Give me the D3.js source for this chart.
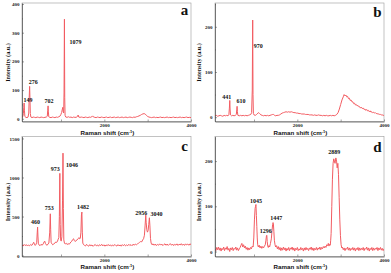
<!DOCTYPE html>
<html>
<head>
<meta charset="utf-8">
<script src="https://cdn.jsdelivr.net/npm/d3@7"></script>
<style>
  body { margin: 0; background: #fff; }
  svg { display: block; }
</style>
</head>
<body>
<div id="chart"></div>
<script>
// spectra: [Raman shift, intensity]
const specA = [[100,5],[118,7],[132,18],[142,40],[149,55],[156,30],[166,8],[190,5],[215,4],[240,6],[256,20],[266,75],[276,113],[284,70],[292,18],[305,6],[330,4],[360,6],[390,5],[420,4],[450,6],[480,5],[510,4],[540,6],[570,5],[600,4],[630,5],[660,6],[684,9],[694,30],[702,45],[709,24],[718,7],[740,5],[770,4],[800,6],[830,5],[860,4],[890,6],[920,5],[950,7],[975,9],[995,14],[1015,22],[1032,34],[1042,40],[1052,24],[1062,20],[1070,90],[1079,347],[1086,75],[1094,12],[1110,6],[1140,5],[1170,7],[1200,5],[1230,6],[1260,4],[1290,6],[1320,5],[1350,5],[1380,8],[1395,13],[1410,6],[1440,5],[1470,6],[1500,5],[1530,4],[1560,6],[1590,5],[1620,4],[1650,6],[1680,5],[1710,7],[1730,10],[1750,6],[1780,5],[1810,4],[1840,6],[1870,5],[1900,4],[1930,6],[1960,5],[1990,4],[2020,5],[2050,6],[2080,4],[2110,5],[2140,6],[2170,4],[2200,5],[2230,6],[2260,4],[2290,5],[2320,6],[2350,4],[2380,5],[2410,6],[2440,4],[2470,5],[2500,6],[2530,4],[2560,5],[2590,6],[2620,5],[2650,4],[2680,6],[2710,5],[2740,7],[2770,8],[2800,10],[2830,12],[2860,15],[2890,17],[2920,18],[2945,16],[2970,12],[3000,8],[3030,6],[3060,5],[3090,4],[3120,5],[3150,6],[3180,4],[3210,5],[3240,4],[3270,5],[3300,6],[3330,4],[3360,5],[3390,4],[3420,5],[3450,6],[3480,4],[3510,5],[3540,4],[3570,5],[3600,6],[3630,4],[3660,5],[3690,4],[3720,5],[3750,6],[3780,4],[3810,5],[3840,4],[3870,5],[3900,6],[3930,4],[3960,5],[4000,4]];

const specB = [[100,3],[130,4],[160,2],[190,3],[220,4],[250,3],[280,2],[310,4],[340,3],[370,4],[400,3],[420,5],[432,20],[441,37],[448,18],[458,5],[480,3],[510,4],[540,3],[570,4],[592,6],[602,16],[610,24],[617,12],[628,4],[660,3],[690,4],[720,3],[750,4],[780,3],[810,4],[840,3],[870,4],[900,5],[925,6],[945,10],[960,60],[970,215],[977,50],[986,8],[1000,5],[1030,4],[1060,6],[1090,9],[1110,10],[1130,8],[1160,5],[1190,4],[1220,3],[1250,4],[1280,3],[1310,4],[1340,3],[1370,4],[1400,5],[1430,6],[1450,6],[1475,4],[1500,3],[1530,4],[1560,4],[1590,5],[1620,7],[1650,9],[1680,10],[1710,11],[1740,12],[1770,11],[1800,12],[1830,11],[1860,12],[1890,11],[1920,10],[1950,10],[1980,9],[2010,9],[2040,8],[2070,8],[2100,7],[2130,7],[2160,7],[2190,6],[2220,6],[2250,6],[2280,5],[2310,5],[2340,5],[2370,4],[2400,5],[2430,4],[2460,4],[2490,5],[2520,4],[2550,4],[2580,3],[2610,4],[2640,3],[2670,4],[2700,3],[2730,3],[2760,4],[2790,3],[2820,4],[2850,3],[2880,4],[2910,6],[2940,10],[2970,18],[3000,28],[3030,38],[3060,45],[3080,50],[3100,47],[3120,49],[3140,45],[3160,46],[3180,41],[3200,42],[3220,37],[3240,38],[3260,34],[3280,34],[3300,30],[3320,31],[3340,27],[3360,28],[3380,25],[3400,26],[3420,23],[3440,23],[3460,20],[3480,22],[3500,19],[3520,20],[3540,17],[3560,18],[3580,15],[3600,17],[3620,14],[3640,15],[3660,12],[3680,14],[3700,11],[3720,12],[3740,10],[3760,11],[3780,9],[3800,10],[3820,8],[3840,8],[3860,7],[3880,7],[3900,6],[3920,6],[3940,5],[3960,5],[3980,4],[4000,4]];

const specC = [[100,135],[125,122],[150,142],[175,128],[200,140],[225,122],[250,136],[275,125],[300,142],[325,130],[350,150],[370,170],[385,150],[405,130],[425,145],[440,170],[452,300],[460,365],[468,250],[478,150],[495,136],[515,126],[540,144],[565,132],[590,150],[610,175],[625,185],[640,155],[660,138],[680,132],[700,148],[720,160],[740,300],[753,535],[762,330],[772,170],[790,150],[810,138],[835,150],[860,160],[880,175],[900,168],[920,185],[935,210],[950,230],[962,500],[973,1053],[982,400],[992,200],[1005,185],[1020,240],[1035,700],[1046,1312],[1055,600],[1065,200],[1080,160],[1100,148],[1120,158],[1140,142],[1165,152],[1190,145],[1210,160],[1230,175],[1250,185],[1270,205],[1290,215],[1305,195],[1325,180],[1345,190],[1370,200],[1395,215],[1415,230],[1430,215],[1445,220],[1460,300],[1472,520],[1482,557],[1492,300],[1503,160],[1520,140],[1540,132],[1565,122],[1590,144],[1615,128],[1640,120],[1665,140],[1690,124],[1715,136],[1740,118],[1765,132],[1790,142],[1815,124],[1840,136],[1865,120],[1890,140],[1915,126],[1940,144],[1965,124],[1990,138],[2015,120],[2040,136],[2065,126],[2090,142],[2115,124],[2140,138],[2165,120],[2190,136],[2215,124],[2240,142],[2265,128],[2290,122],[2315,140],[2340,124],[2365,136],[2390,120],[2415,140],[2440,126],[2465,142],[2490,124],[2515,136],[2540,126],[2565,144],[2590,128],[2615,140],[2640,126],[2665,146],[2690,132],[2715,148],[2740,138],[2765,150],[2790,158],[2815,170],[2840,180],[2865,176],[2885,200],[2905,215],[2925,260],[2940,380],[2956,518],[2966,420],[2980,330],[2995,300],[3010,320],[3025,400],[3040,484],[3052,380],[3065,220],[3080,160],[3100,138],[3125,150],[3150,132],[3175,148],[3200,128],[3225,144],[3250,132],[3275,150],[3300,134],[3325,148],[3350,128],[3375,142],[3400,150],[3425,132],[3450,148],[3475,130],[3500,144],[3525,152],[3550,132],[3575,148],[3600,128],[3625,144],[3650,134],[3675,150],[3700,130],[3725,146],[3750,136],[3775,152],[3800,132],[3825,148],[3850,130],[3875,150],[3900,136],[3925,148],[3950,132],[3975,150],[4000,140]];

const specD = [[100,6],[120,2],[140,9],[160,4],[180,10],[200,3],[220,8],[240,1],[260,7],[280,4],[300,10],[320,2],[340,8],[360,5],[380,11],[400,3],[420,7],[440,0],[460,8],[480,4],[500,9],[520,2],[540,7],[560,5],[580,10],[600,3],[620,8],[640,2],[660,6],[680,9],[700,14],[720,18],[740,10],[760,15],[780,8],[800,12],[820,5],[840,9],[860,3],[880,8],[900,4],[920,9],[940,6],[960,12],[980,10],[995,30],[1010,70],[1025,95],[1035,100],[1045,104],[1055,80],[1065,55],[1075,30],[1085,15],[1100,10],[1120,14],[1140,8],[1160,12],[1180,7],[1200,11],[1220,8],[1240,12],[1260,15],[1275,25],[1288,35],[1296,36],[1305,22],[1318,12],[1330,9],[1345,13],[1360,10],[1380,18],[1400,28],[1415,45],[1430,60],[1440,64],[1447,62],[1458,45],[1470,25],[1485,15],[1500,10],[1520,13],[1540,6],[1560,11],[1580,4],[1600,9],[1620,2],[1640,8],[1660,3],[1680,10],[1700,4],[1720,8],[1740,1],[1760,7],[1780,3],[1800,9],[1820,2],[1840,8],[1860,5],[1880,10],[1900,3],[1920,8],[1940,1],[1960,7],[1980,4],[2000,9],[2020,2],[2040,6],[2060,3],[2080,9],[2100,4],[2120,7],[2140,1],[2160,8],[2180,3],[2200,9],[2220,4],[2240,7],[2260,2],[2280,8],[2300,5],[2320,10],[2340,3],[2360,8],[2380,2],[2400,7],[2420,4],[2440,9],[2460,3],[2480,8],[2500,5],[2520,10],[2540,4],[2560,9],[2580,6],[2600,11],[2620,8],[2640,12],[2660,9],[2680,15],[2700,13],[2715,18],[2730,12],[2745,16],[2760,14],[2770,25],[2780,40],[2795,100],[2810,160],[2825,195],[2840,205],[2855,200],[2870,195],[2889,207],[2905,200],[2920,185],[2935,195],[2950,170],[2965,120],[2980,70],[2995,35],[3010,15],[3025,8],[3040,10],[3060,4],[3080,8],[3100,2],[3120,7],[3140,5],[3160,10],[3180,3],[3200,8],[3220,2],[3240,7],[3260,4],[3280,9],[3300,3],[3320,8],[3340,1],[3360,7],[3380,4],[3400,9],[3420,2],[3440,8],[3460,3],[3480,7],[3500,4],[3520,9],[3540,2],[3560,7],[3580,5],[3600,10],[3620,3],[3640,8],[3660,1],[3680,7],[3700,4],[3720,9],[3740,2],[3760,8],[3780,3],[3800,7],[3820,5],[3840,9],[3860,2],[3880,8],[3900,4],[3920,9],[3940,3],[3960,7],[3980,2],[4000,6]];

// peak labels: [text, shift, intensity at top]
const peaksA = [["149",149,55],["276",276,113],["702",702,45],["1079",1079,347]];
const peaksB = [["441",441,37],["610",610,24],["970",970,215]];
const peaksC = [["460",460,365],["753",753,535],["973",973,1053],["1046",1046,1312],["1482",1482,557],["2956",2956,518],["3040",3040,484]];
const peaksD = [["1045",1045,104],["1296",1296,36],["1447",1447,64],["2889",2889,207]];

const yTicksA = [0,100,200,300,400];
const yTicksB = [0,100,200];
const yTicksC = [0,500,1000,1500];
const yTicksD = [0,100,200];
const xTicks = [1000,2000,3000,4000];
const xTickLabels = [2000,4000];

const lineColor = "#f25c62";
const serif = "'Liberation Serif', 'Times New Roman', serif";
const sans = "'Liberation Sans', Arial, sans-serif";

const svg = d3.select("#chart").append("svg")
  .attr("width", 391)
  .attr("height", 273);
svg.append("rect").attr("width",391).attr("height",273).attr("fill","#fff");

const panels = [
  {id:"a", spec:specA, peaks:peaksA, yticks:yTicksA, minor:50, box:[22,191,3,121.5], ydom:[-9.5,403.5],
   off:[[4,-3.5],[3.5,-4],[1,-5],[11,23]], ytx:7.5, ytc:62.5, xty:133, lb:12},
  {id:"b", spec:specB, peaks:peaksB, yticks:yTicksB, minor:50, box:[215,384,3,121.5], ydom:[-9.6,252.7],
   off:[[-3,-4],[4,-5],[5.5,26]], ytx:198, ytc:62.5, xty:133, lb:14},
  {id:"c", spec:specC, peaks:peaksC, yticks:yTicksC, minor:250, box:[22,191,136.5,256.5], ydom:[-12,1525],
   off:[[-2,-5],[-1,-5.5],[-4.5,-4],[9,12],[1,-5],[-4.5,-2],[7,-3.5]], ytx:7.5, ytc:202, xty:266.5, lb:14.5},
  {id:"d", spec:specD, peaks:peaksD, yticks:yTicksD, minor:50, box:[215,384,136.5,256.5], ydom:[-11,254.4],
   off:[[0,-4],[-1,-4.5],[3,-5],[-1.5,-6]], ytx:198, ytc:202, xty:266.5, lb:15}
];

const render = (p) => {
  const [x0, x1, y0, y1] = p.box;
  const x = d3.scaleLinear().domain([100, 4000]).range([x0, x1]);
  const y = d3.scaleLinear().domain(p.ydom).range([y1, y0]);
  const g = svg.append("g");

  g.append("clipPath").attr("id", "clip-" + p.id)
    .append("rect").attr("x", x0).attr("y", y0).attr("width", x1 - x0).attr("height", y1 - y0);

  // frame
  g.append("rect")
    .attr("x", x0).attr("y", y0)
    .attr("width", x1 - x0).attr("height", y1 - y0)
    .attr("fill", "none").attr("stroke", "#9a9a9a").attr("stroke-width", 0.6);

  g.append("path").datum(p.spec)
    .attr("clip-path", `url(#clip-${p.id})`)
    .attr("d", d3.line().x(d => x(d[0])).y(d => y(d[1])))
    .attr("fill", "none")
    .attr("stroke", lineColor)
    .attr("stroke-width", 1)
    .attr("stroke-linejoin", "round");

  // x axis
  const xa = g.append("g").attr("transform", `translate(0,${y1})`)
    .call(d3.axisBottom(x).tickValues(xTicks).tickSizeInner(-2).tickSizeOuter(0).tickPadding(2.4)
      .tickFormat(d => xTickLabels.includes(d) ? d : ""));
  // y axis
  const ya = g.append("g").attr("transform", `translate(${x0},0)`)
    .call(d3.axisLeft(y).tickValues(p.yticks).tickSizeInner(-2).tickSizeOuter(0).tickPadding(2.4)
      .tickFormat(d3.format("d")));
  const minorTicks = d3.range(p.minor, p.ydom[1], p.minor * 2);
  g.append("g").attr("transform", `translate(${x0},0)`)
    .call(d3.axisLeft(y).tickValues(minorTicks).tickSizeInner(-1).tickSizeOuter(0).tickFormat(""))
    .select(".domain").remove();

  g.selectAll(".domain").attr("stroke", "#444").attr("stroke-width", 0.7);
  g.selectAll(".tick line").attr("stroke", "#444").attr("stroke-width", 0.5);
  [xa, ya].forEach(a => a.selectAll("text")
    .attr("font-family", serif).attr("font-weight", "bold")
    .attr("font-size", 5).attr("fill", "#222"));

  // peak labels
  g.selectAll(".peak").data(p.peaks).join("text")
    .attr("class", "peak")
    .attr("x", (d, i) => x(d[1]) + p.off[i][0])
    .attr("y", (d, i) => y(d[2]) + p.off[i][1] + 2.1)
    .attr("text-anchor", "middle")
    .attr("font-family", serif).attr("font-weight", "bold")
    .attr("font-size", 6).attr("fill", "#111")
    .text(d => d[0]);

  // panel letter
  g.append("text")
    .attr("x", x1 - 6.5).attr("y", y0 + p.lb)
    .attr("text-anchor", "middle")
    .attr("font-family", serif).attr("font-weight", "bold")
    .attr("font-size", 15).attr("fill", "#111")
    .text(p.id);

  // axis titles
  g.append("text")
    .attr("transform", `translate(${p.ytx},${p.ytc}) rotate(-90)`)
    .attr("text-anchor", "middle").attr("dominant-baseline", "central")
    .attr("font-family", serif).attr("font-weight", "bold")
    .attr("font-size", 6.2).attr("fill", "#111")
    .text("Intensity (a.u.)");

  const xt = g.append("text")
    .attr("x", (x0 + x1) / 2 + 1).attr("y", p.xty + 2.2)
    .attr("text-anchor", "middle")
    .attr("font-family", sans).attr("font-weight", "bold")
    .attr("font-size", 6.2).attr("fill", "#111");
  xt.append("tspan").text("Raman shift (cm");
  xt.append("tspan").attr("font-size", 4).attr("dy", -2.2).text("-1");
  xt.append("tspan").attr("dy", 2.2).text(")");
};

panels.forEach(render);
</script>
</body>
</html>
